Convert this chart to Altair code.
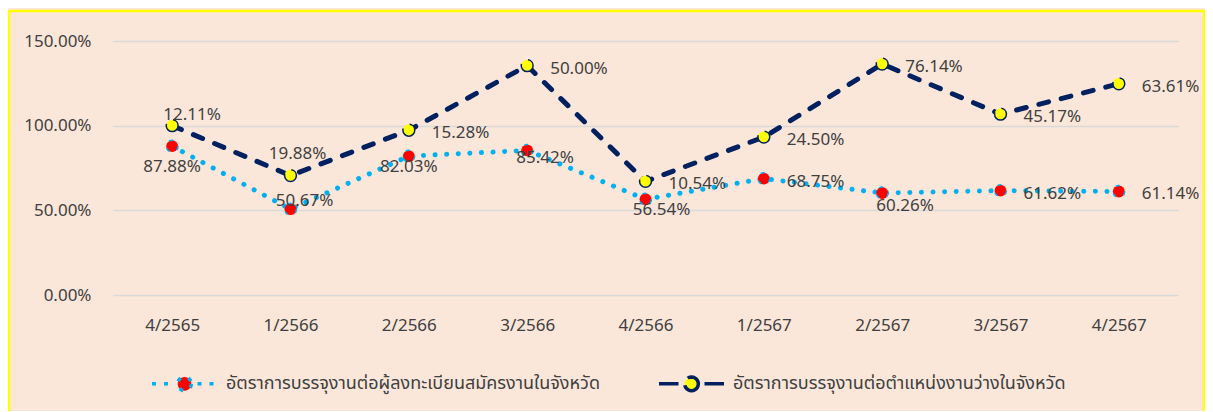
import math
import altair as alt
import pandas as pd

# ---- data ----
periods = ["4/2565", "1/2566", "2/2566", "3/2566", "4/2566",
           "1/2567", "2/2567", "3/2567", "4/2567"]
series_names = [
    "อัตราการบรรจุงานต่อผู้ลงทะเบียนสมัครงานในจังหวัด",
    "อัตราการบรรจุงานต่อตำแหน่งงานว่างในจังหวัด",
]
applicant_rate = [87.88, 50.67, 82.03, 85.42, 56.54, 68.75, 60.26, 61.62, 61.14]
vacancy_rate = [12.11, 19.88, 15.28, 50.00, 10.54, 24.50, 76.14, 45.17, 63.61]
y_ticks = [0, 50, 100, 150]

rows = []
for i, p in enumerate(periods):
    rows.append({"period": p, "series": series_names[0], "order": 0, "value": applicant_rate[i]})
    rows.append({"period": p, "series": series_names[1], "order": 1, "value": vacancy_rate[i]})
df = pd.DataFrame(rows)

# ---- styling ----
FONT = "Noto Sans Thai, Noto Sans, Tahoma, sans-serif"
TEXT = "#404040"
BG = "#FBE7DA"
LIGHT_BLUE = "#00B0F0"
NAVY = "#002060"
FS = 17

# label placement (align, dx, dy) per (series order, period); default right of point
label_style = {
    (1, "4/2565"): ("center", 20, -11),
    (1, "1/2566"): ("center", 7, -22),
    (0, "4/2565"): ("center", 0, 21),
    (0, "1/2566"): ("center", 14, -8),
    (0, "2/2566"): ("center", 0, 11),
    (0, "3/2566"): ("center", 18, 8),
    (0, "4/2566"): ("center", 16, 11),
    (0, "2/2567"): ("center", 23, 13),
}
default_style = ("left", 23, 3)

base = alt.Chart(df).transform_stack(
    stack="value",
    groupby=["period"],
    sort=[alt.SortField("order", order="ascending")],
    as_=["y0", "y1"],
).transform_calculate(label="format(datum.value, '.2f') + '%'")

x_enc = alt.X(
    "period:N",
    sort=periods,
    scale=alt.Scale(type="point", domain=periods, padding=0.5),
    axis=alt.Axis(title=None, labelAngle=0, domain=False, ticks=False,
                  labelPadding=22, labelFontSize=FS, labelColor=TEXT, labelFont=FONT,
                  grid=False),
)
y_enc = alt.Y(
    "y1:Q",
    scale=alt.Scale(domain=[0, 150], nice=False, zero=True),
    axis=alt.Axis(title=None, values=y_ticks, domain=False, ticks=False,
                  labelExpr="format(datum.value, '.2f') + '%'",
                  labelPadding=22, labelFontSize=FS, labelColor=TEXT, labelFont=FONT,
                  grid=True, gridColor="#D9D9D9", gridWidth=1.5),
)

line1 = base.transform_filter(alt.datum.order == 0).mark_line(
    color=LIGHT_BLUE, strokeWidth=5, strokeDash=[0.1, 11.5], strokeCap="round"
).encode(x=x_enc, y=y_enc)

line2 = base.transform_filter(alt.datum.order == 1).mark_line(
    color=NAVY, strokeWidth=5, strokeDash=[10, 13], strokeCap="round"
).encode(x=x_enc, y=y_enc)

# legend symbol: short line on each side of a small circle (polygon)
R = 0.21
circle = "M" + "L".join(
    f"{R * math.cos(2 * math.pi * k / 24):.4f},{R * math.sin(2 * math.pi * k / 24):.4f}"
    for k in range(24)
) + "Z"
legend_path = "M0.4,0L1,0M-1,0L-0.4,0" + circle

leg = alt.Legend(
    title=None, orient="none", legendX=37, legendY=308, direction="horizontal",
    symbolType=legend_path, symbolSize=4225, symbolStrokeWidth=3.5,
    labelFontSize=18, labelColor=TEXT, labelFont=FONT, labelOffset=7,
    labelLimit=700, columnPadding=51, padding=0, symbolOpacity=1,
)

points = base.mark_point(filled=True, size=140, opacity=1, strokeWidth=1.5).encode(
    x=x_enc,
    y=y_enc,
    fill=alt.Fill("series:N", scale=alt.Scale(domain=series_names, range=["#FF0000", "#FFFF00"]), legend=leg),
    stroke=alt.Stroke("series:N", scale=alt.Scale(domain=series_names, range=[LIGHT_BLUE, NAVY]), legend=leg),
    strokeDash=alt.StrokeDash("series:N", scale=alt.Scale(domain=series_names, range=[[4, 8], [20, 8]]), legend=leg),
)

text_layers = []
for o in (0, 1):
    for p in periods:
        align, dx, dy = label_style.get((o, p), default_style)
        text_layers.append(
            base.transform_filter((alt.datum.order == o) & (alt.datum.period == p))
            .mark_text(align=align, baseline="middle", dx=dx, dy=dy,
                       fontSize=FS, font=FONT, color=TEXT)
            .encode(x=x_enc, y=y_enc, text="label:N")
        )

border = alt.Chart(alt.InlineData(values=[{"k": 1}])).mark_rect(
    fill=None, stroke="#FFFF00", strokeWidth=2.5
).encode(x=alt.value(-104), x2=alt.value(1091), y=alt.value(-30), y2=alt.value(400))

chart = alt.layer(line1, line2, points, *text_layers, border).properties(
    width=1065,
    height=254,
    autosize=alt.AutoSizeParams(type="none"),
    padding={"left": 105, "top": 33, "right": 27, "bottom": 116},
    background=BG,
).configure_view(stroke=None)

chart.save("out.html", embed_options={"renderer": "svg", "actions": False})
